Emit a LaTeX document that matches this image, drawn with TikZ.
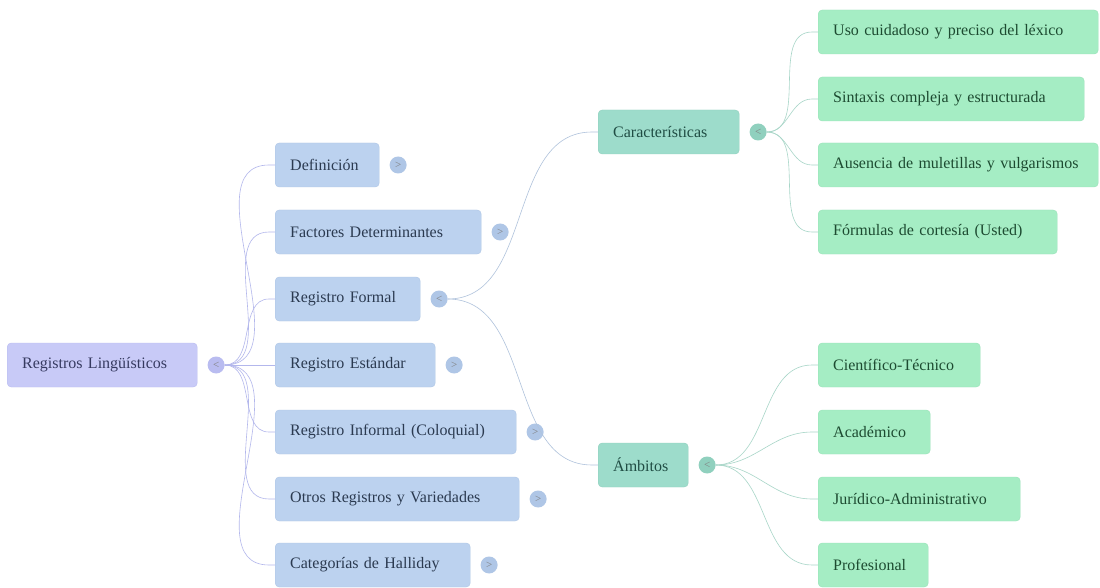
\documentclass[tikz,border=0pt]{standalone}
\usepackage{fontspec}
\setmainfont{Liberation Serif}
\usetikzlibrary{positioning}

\definecolor{rootfill}{HTML}{C8CAF7}
\definecolor{rootdraw}{HTML}{B9BCF0}
\definecolor{roottext}{HTML}{363A60}
\definecolor{onefill}{HTML}{BCD2EF}
\definecolor{onedraw}{HTML}{AFC6E6}
\definecolor{onetext}{HTML}{2B3A50}
\definecolor{twofill}{HTML}{9DDCCB}
\definecolor{twodraw}{HTML}{90D0BE}
\definecolor{twotext}{HTML}{204D44}
\definecolor{threefill}{HTML}{A5EDC4}
\definecolor{threedraw}{HTML}{98E2B8}
\definecolor{threetext}{HTML}{1D4B31}
\definecolor{rootlink}{HTML}{B3B7EC}
\definecolor{onelink}{HTML}{B0C3DC}
\definecolor{twolink}{HTML}{A8D6C8}

\begin{document}
\begin{tikzpicture}[x=1pt, y=-1pt, node distance=10pt,
  box/.style={rounded corners=4pt, inner xsep=15pt, inner ysep=0pt,
    minimum height=44pt, anchor=west, align=left,
    font=\fontsize{16}{18}\selectfont},
  rootbox/.style={box, fill=rootfill, draw=rootdraw, text=roottext},
  onebox/.style={box, fill=onefill, draw=onedraw, text=onetext},
  twobox/.style={box, fill=twofill, draw=twodraw, text=twotext},
  threebox/.style={box, fill=threefill, draw=threedraw, text=threetext},
  toggle/.style={circle, inner sep=0pt, minimum size=17pt,
    font=\fontsize{11}{11}\selectfont, text=black!50},
  link/.style={line width=0.6pt}]

  \useasboundingbox (0,0) rectangle (1100,588);
  \fill[white] (0,0) rectangle (1100,588);

  % root and first level
  \node [rootbox, text width=160pt] (root) at (7,365) {Registros Lingüísticos};
  \node [toggle, fill=rootdraw, right=10pt of root] (troot) {<};

  \node [onebox, text width=74pt]  (def) at (275,165) {Definición};
  \node [onebox, text width=176pt] (fac) at (275,232) {Factores Determinantes};
  \node [onebox, text width=115pt] (for) at (275,299) {Registro Formal};
  \node [onebox, text width=130pt] (est) at (275,365) {Registro Estándar};
  \node [onebox, text width=211pt] (inf) at (275,432) {Registro Informal (Coloquial)};
  \node [onebox, text width=214pt] (otr) at (275,499) {Otros Registros y Variedades};
  \node [onebox, text width=165pt] (cat) at (275,565) {Categorías de Halliday};

  \node [toggle, fill=onedraw, right=10pt of def] (tdef) {>};
  \node [toggle, fill=onedraw, right=10pt of fac] (tfac) {>};
  \node [toggle, fill=onedraw, right=10pt of for] (tfor) {<};
  \node [toggle, fill=onedraw, right=10pt of est] (test) {>};
  \node [toggle, fill=onedraw, right=10pt of inf] (tinf) {>};
  \node [toggle, fill=onedraw, right=10pt of otr] (totr) {>};
  \node [toggle, fill=onedraw, right=10pt of cat] (tcat) {>};

  % second level
  \node [twobox, text width=111pt] (car) at (598,132) {Características};
  \node [twobox, text width=60pt]  (amb) at (598,465) {Ámbitos};
  \node [toggle, fill=twodraw, right=10pt of car] (tcar) {<};
  \node [toggle, fill=twodraw, right=10pt of amb] (tamb) {<};

  % third level
  \node [threebox, text width=250pt] (uso)  at (818,32)  {Uso cuidadoso y preciso del léxico};
  \node [threebox, text width=236pt] (sin)  at (818,99)  {Sintaxis compleja y estructurada};
  \node [threebox, text width=250pt] (aus)  at (818,165) {Ausencia de muletillas y vulgarismos};
  \node [threebox, text width=209pt] (fcor) at (818,232) {Fórmulas de cortesía (Usted)};
  \node [threebox, text width=132pt] (cie)  at (818,365) {Científico-Técnico};
  \node [threebox, text width=82pt]  (aca)  at (818,432) {Académico};
  \node [threebox, text width=172pt] (jur)  at (818,499) {Jurídico-Administrativo};
  \node [threebox, text width=80pt]  (pro)  at (818,565) {Profesional};

  \draw [link, rootlink] (troot.east) to[out=0, in=180] ([xshift=-6pt]def.west) -- (def.west);
  \draw [link, rootlink] (troot.east) to[out=0, in=180] ([xshift=-6pt]fac.west) -- (fac.west);
  \draw [link, rootlink] (troot.east) to[out=0, in=180] ([xshift=-6pt]for.west) -- (for.west);
  \draw [link, rootlink] (troot.east) -- (est.west);
  \draw [link, rootlink] (troot.east) to[out=0, in=180] ([xshift=-6pt]inf.west) -- (inf.west);
  \draw [link, rootlink] (troot.east) to[out=0, in=180] ([xshift=-6pt]otr.west) -- (otr.west);
  \draw [link, rootlink] (troot.east) to[out=0, in=180] ([xshift=-6pt]cat.west) -- (cat.west);

  \draw [link, onelink] (tfor.east) to[out=0, in=180] ([xshift=-6pt]car.west) -- (car.west);
  \draw [link, onelink] (tfor.east) to[out=0, in=180] ([xshift=-6pt]amb.west) -- (amb.west);

  \draw [link, twolink] (tcar.east) to[out=0, in=180] ([xshift=-6pt]uso.west) -- (uso.west);
  \draw [link, twolink] (tcar.east) to[out=0, in=180] ([xshift=-6pt]sin.west) -- (sin.west);
  \draw [link, twolink] (tcar.east) to[out=0, in=180] ([xshift=-6pt]aus.west) -- (aus.west);
  \draw [link, twolink] (tcar.east) to[out=0, in=180] ([xshift=-6pt]fcor.west) -- (fcor.west);
  \draw [link, twolink] (tamb.east) to[out=0, in=180] ([xshift=-6pt]cie.west) -- (cie.west);
  \draw [link, twolink] (tamb.east) to[out=0, in=180] ([xshift=-6pt]aca.west) -- (aca.west);
  \draw [link, twolink] (tamb.east) to[out=0, in=180] ([xshift=-6pt]jur.west) -- (jur.west);
  \draw [link, twolink] (tamb.east) to[out=0, in=180] ([xshift=-6pt]pro.west) -- (pro.west);
\end{tikzpicture}
\end{document}
